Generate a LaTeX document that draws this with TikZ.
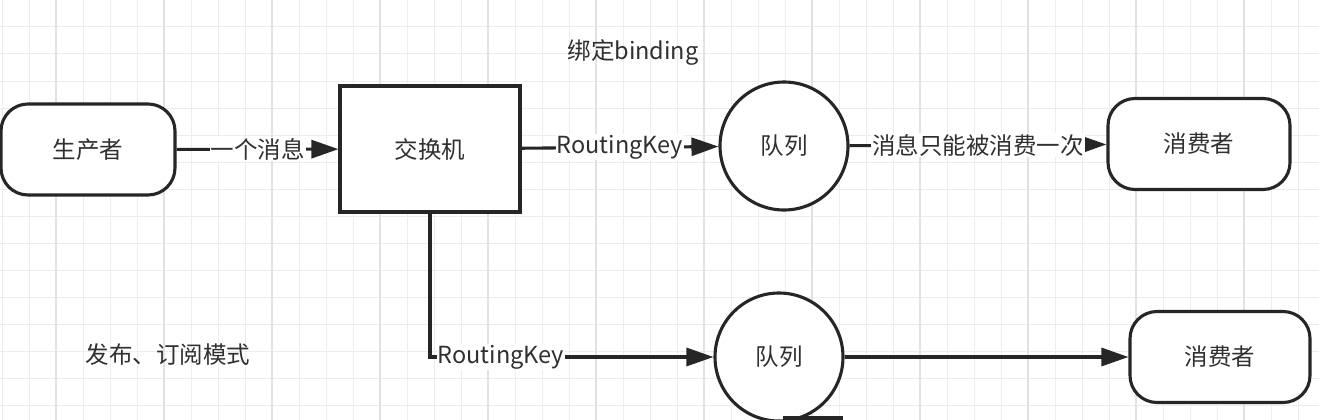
\documentclass[tikz,border=0pt]{standalone}
\usepackage{fontspec}
\setmainfont{Noto Sans CJK SC}
\usepackage{xcolor}
\usetikzlibrary{arrows.meta}

\definecolor{linegray}{HTML}{262626}
\definecolor{textgray}{HTML}{303030}
\definecolor{gridminor}{HTML}{EDEDED}
\definecolor{gridstrong}{HTML}{E2E2E2}

\begin{document}
\begin{tikzpicture}[
    x=1pt, y=-1pt,
    line width=3.1pt, draw=linegray,
    font=\fontsize{23.5}{27}\selectfont, text=textgray,
    endpoint/.style={draw, fill=white, rounded corners=27pt, minimum width=180pt, minimum height=91pt},
    exchange/.style={draw, fill=white, minimum width=180pt, minimum height=126pt},
    queue/.style={circle, draw, fill=white, minimum size=128pt},
    edge label/.style={fill=white, inner sep=1pt},
    flow/.style={-{Triangle[length=27pt, width=18pt]}},
    gridline/.style={line width=1pt, draw=gridminor},
    gridmajor/.style={line width=1.4pt, draw=gridstrong}
]
\useasboundingbox (0,0) rectangle (1319,420);
\fill[white] (0,0) rectangle (1319,420);

% Grid
\foreach \gx in {2,29,...,1319} \draw[gridline] (\gx,0) -- (\gx,420);
\foreach \gy in {0,27,...,420} \draw[gridline] (0,\gy) -- (1319,\gy);
\foreach \gx in {56,164,...,1319} \draw[gridmajor] (\gx,0) -- (\gx,420);

% Nodes
\node[endpoint, minimum width=174pt] (producer) at (88,149.5) {生产者};
\node[exchange] (switch) at (430,149) {交换机};
\node[queue] (queueA) at (784,146) {队列};
\node[endpoint, minimum width=182pt] (consumerA) at (1199,144) {消费者};
\node[queue] (queueB) at (779,357) {队列};
\node[endpoint] (consumerB) at (1220,357) {消费者};

\node (binding) at (633,52) {绑定binding};
\node (mode) at (168,355) {发布、订阅模式};

% Connectors
\draw[flow] (producer) -- (switch) node[midway, edge label] {一个消息};
\draw[flow] (switch) -- (queueA) node[midway, edge label] {RoutingKey};
\draw[flow] (queueA) -- (consumerA) node[midway, edge label] {消息只能被消费一次};
\draw[flow] (switch.south) |- (queueB) node[pos=0.625, edge label] {RoutingKey};
\draw[flow] (queueB) -- (consumerB);

\coordinate (fragA) at (783,418);
\coordinate (fragB) at (843,418);
\draw (fragA) -- (fragB);

\end{tikzpicture}
\end{document}
